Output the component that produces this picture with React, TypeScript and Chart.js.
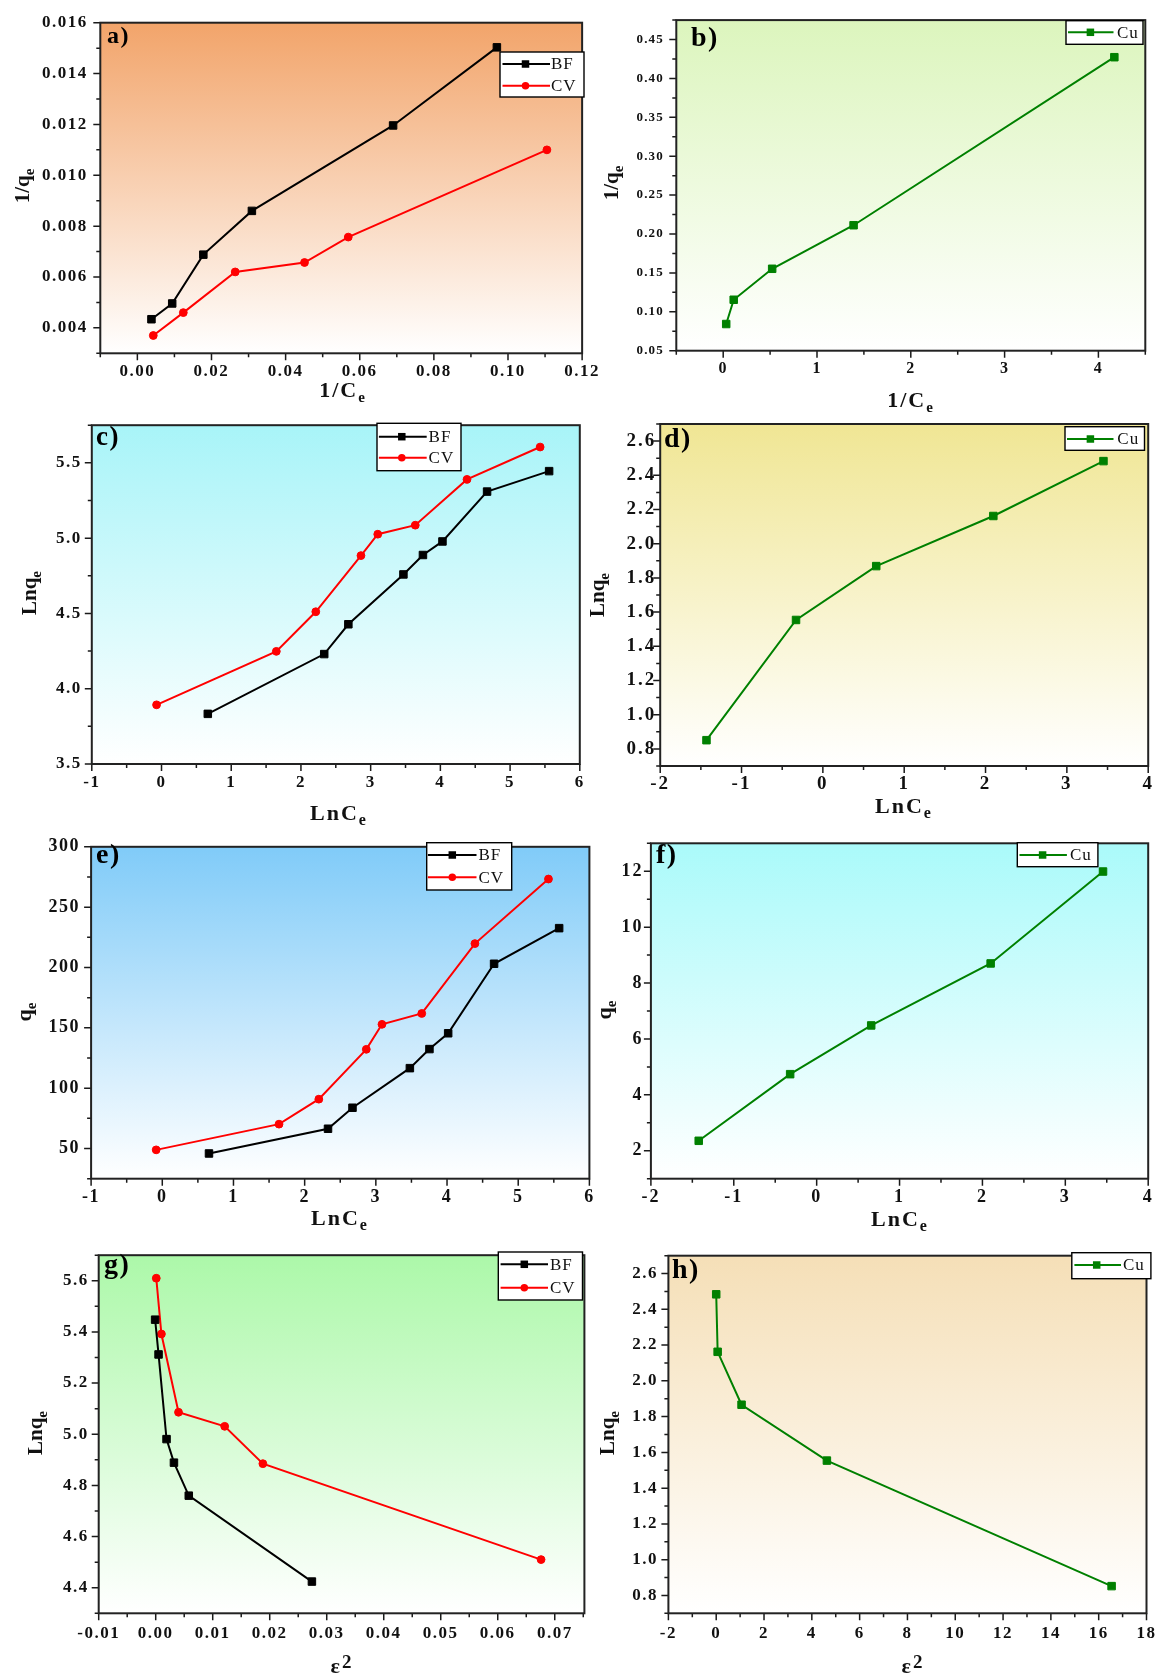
import React, { useEffect, useRef } from 'react';
import { Chart, registerables } from 'chart.js';

Chart.register(...registerables);

const FONT = "'Liberation Serif', 'Times New Roman', Times, serif";

// ---------- data ----------
// a) 1/qe vs 1/Ce
const aBFx = [0.0038, 0.0094, 0.0178, 0.0309, 0.069, 0.097];
const aBFy = [0.00434, 0.00496, 0.00688, 0.0086, 0.01196, 0.01503];
const aCVx = [0.0043, 0.0124, 0.0264, 0.0451, 0.0569, 0.1105];
const aCVy = [0.0037, 0.0046, 0.0062, 0.00657, 0.00757, 0.011];
const aXTicks = ['0.00', '0.02', '0.04', '0.06', '0.08', '0.10', '0.12'];
const aYTicks = ['0.004', '0.006', '0.008', '0.010', '0.012', '0.014', '0.016'];

// b) Cu 1/qe vs 1/Ce
const bCux = [0.032, 0.112, 0.522, 1.39, 4.17];
const bCuy = [0.0843, 0.1155, 0.1553, 0.2113, 0.4273];
const bXTicks = ['0', '1', '2', '3', '4'];
const bYTicks = ['0.05', '0.10', '0.15', '0.20', '0.25', '0.30', '0.35', '0.40', '0.45'];

// c) Lnqe vs LnCe
const cBFx = [0.664, 2.334, 2.68, 3.47, 3.75, 4.03, 4.67, 5.56];
const cBFy = [3.833, 4.23, 4.428, 4.759, 4.888, 4.978, 5.309, 5.445];
const cCVx = [-0.071, 1.647, 2.213, 2.861, 3.102, 3.64, 4.382, 5.431];
const cCVy = [3.893, 4.248, 4.511, 4.884, 5.026, 5.086, 5.39, 5.605];
const cXTicks = ['-1', '0', '1', '2', '3', '4', '5', '6'];
const cYTicks = ['3.5', '4.0', '4.5', '5.0', '5.5'];

// d) Cu Lnqe vs LnCe
const dCux = [-1.431, -0.33, 0.656, 2.096, 3.45];
const dCuy = [0.851, 1.554, 1.869, 2.162, 2.483];
const dXTicks = ['-2', '-1', '0', '1', '2', '3', '4'];
const dYTicks = ['0.8', '1.0', '1.2', '1.4', '1.6', '1.8', '2.0', '2.2', '2.4', '2.6'];

// e) qe vs LnCe
const eBFx = [0.656, 2.328, 2.672, 3.478, 3.753, 4.016, 4.661, 5.575];
const eBFy = [45.9, 66.4, 83.8, 116.6, 132.4, 145.5, 203.1, 232.6];
const eCVx = [-0.086, 1.64, 2.199, 2.866, 3.086, 3.645, 4.392, 5.425];
const eCVy = [48.9, 70.2, 90.9, 132.2, 152.9, 161.9, 219.8, 273.3];
const eXTicks = ['-1', '0', '1', '2', '3', '4', '5', '6'];
const eYTicks = ['50', '100', '150', '200', '250', '300'];

// f) Cu qe vs LnCe
const fCux = [-1.423, -0.32, 0.658, 2.099, 3.455];
const fCuy = [2.356, 4.74, 6.484, 8.702, 11.99];
const fXTicks = ['-2', '-1', '0', '1', '2', '3', '4'];
const fYTicks = ['2', '4', '6', '8', '10', '12'];

// g) Lnqe vs eps^2
const gBFx = [-0.0001, 0.0005, 0.0019, 0.0032, 0.0058, 0.0274];
const gBFy = [5.448, 5.312, 4.981, 4.889, 4.76, 4.424];
const gCVx = [0.0001, 0.001, 0.004, 0.0121, 0.0188, 0.0676];
const gCVy = [5.61, 5.392, 5.086, 5.031, 4.885, 4.51];
const gXTicks = ['-0.01', '0.00', '0.01', '0.02', '0.03', '0.04', '0.05', '0.06', '0.07'];
const gYTicks = ['4.4', '4.6', '4.8', '5.0', '5.2', '5.4', '5.6'];

// h) Cu Lnqe vs eps^2
const hCux = [0.0, 0.06, 1.06, 4.63, 16.54];
const hCuy = [2.484, 2.1625, 1.8665, 1.554, 0.852];
const hXTicks = ['-2', '0', '2', '4', '6', '8', '10', '12', '14', '16', '18'];
const hYTicks = ['0.8', '1.0', '1.2', '1.4', '1.6', '1.8', '2.0', '2.2', '2.4', '2.6'];

// ---------- styling / layout ----------
type Part = { t: string; s: number; dy?: number };
type Series = { label: string; xs: number[]; ys: number[]; color: string; style: 'rect' | 'circle' };
type Panel = {
  key: string;
  canvas: [number, number, number, number];
  plot: [number, number, number, number];
  xRange: [number, number];
  yRange: [number, number];
  xTicks: string[];
  yTicks: string[];
  xMinor: number;
  yMinor: number;
  xFont: number;
  yFont: number;
  xPad: number;
  yPad: number;
  spacing: number;
  bgTop: string;
  series: Series[];
  legend: { box: [number, number, number, number]; rows: number[]; lineX: [number, number]; markX: number; textX: number; fontSize: number };
  label: { t: string; x: number; y: number; s: number };
  xTitle: { parts: Part[]; cx: number; by: number };
  yTitle: { parts: Part[]; bx: number; cy: number };
};

const BLACK = '#000000';
const RED = '#FF0000';
const GREEN = '#008000';

const tInvC: Part[] = [{ t: '1/C', s: 22 }, { t: 'e', s: 15, dy: 5 }];
const tInvQ: Part[] = [{ t: '1/q', s: 21 }, { t: 'e', s: 15, dy: 5 }];
const tLnC: Part[] = [{ t: 'LnC', s: 22 }, { t: 'e', s: 16, dy: 5 }];
const tLnQ: Part[] = [{ t: 'Lnq', s: 21 }, { t: 'e', s: 15, dy: 5 }];
const tQ: Part[] = [{ t: 'q', s: 22 }, { t: 'e', s: 15, dy: 5 }];
const tEps: Part[] = [{ t: 'ε', s: 22 }, { t: '2', s: 19, dy: -5 }];

const PANELS: Panel[] = [
  {
    key: 'a', canvas: [0, 0, 605, 415], plot: [100.3, 20.7, 585.5, 353.3],
    xRange: [-0.01, 0.12], yRange: [0.003, 0.016], xTicks: aXTicks, yTicks: aYTicks,
    xMinor: 0.01, yMinor: 0.001, xFont: 17, yFont: 17, xPad: 8, yPad: 12.5, spacing: 1.5, bgTop: '#F2A46A',
    series: [
      { label: 'BF', xs: aBFx, ys: aBFy, color: BLACK, style: 'rect' },
      { label: 'CV', xs: aCVx, ys: aCVy, color: RED, style: 'circle' },
    ],
    legend: { box: [500, 52, 584, 97], rows: [64, 85.7], lineX: [502.5, 550], markX: 525.5, textX: 551, fontSize: 17 },
    label: { t: 'a)', x: 107, y: 43, s: 24 },
    xTitle: { parts: tInvC, cx: 342, by: 397 },
    yTitle: { parts: tInvQ, bx: 28.7, cy: 186 },
  },
  {
    key: 'b', canvas: [580, 0, 585, 415], plot: [676.3, 20, 1145.3, 350.7],
    xRange: [-0.5, 4.5], yRange: [0.05, 0.475], xTicks: bXTicks, yTicks: bYTicks,
    xMinor: 0.5, yMinor: 0.025, xFont: 16, yFont: 13, xPad: 9, yPad: 12.3, spacing: 1.2, bgTop: '#DCF5BD',
    series: [{ label: 'Cu', xs: bCux, ys: bCuy, color: GREEN, style: 'rect' }],
    legend: { box: [1066, 20.7, 1143, 44.3], rows: [32.3], lineX: [1068, 1113.5], markX: 1090.4, textX: 1117, fontSize: 17 },
    label: { t: 'b)', x: 691, y: 46, s: 28 },
    xTitle: { parts: tInvC, cx: 910, by: 407 },
    yTitle: { parts: tInvQ, bx: 618.4, cy: 183 },
  },
  {
    key: 'c', canvas: [0, 405, 605, 425], plot: [91.8, 422.7, 579.8, 764],
    xRange: [-1, 6], yRange: [3.5, 5.75], xTicks: cXTicks, yTicks: cYTicks,
    xMinor: 0.5, yMinor: 0.25, xFont: 17, yFont: 17, xPad: 8, yPad: 10, spacing: 1.5, bgTop: '#A8F4F8',
    series: [
      { label: 'BF', xs: cBFx, ys: cBFy, color: BLACK, style: 'rect' },
      { label: 'CV', xs: cCVx, ys: cCVy, color: RED, style: 'circle' },
    ],
    legend: { box: [377, 423.3, 461, 470.7], rows: [436.7, 457.7], lineX: [378.9, 426.7], markX: 401.8, textX: 428.6, fontSize: 17 },
    label: { t: 'c)', x: 96, y: 445, s: 27 },
    xTitle: { parts: tLnC, cx: 338, by: 820 },
    yTitle: { parts: tLnQ, bx: 36, cy: 593 },
  },
  {
    key: 'd', canvas: [580, 405, 585, 425], plot: [660.2, 424, 1148.2, 766],
    xRange: [-2, 4], yRange: [0.7, 2.7], xTicks: dXTicks, yTicks: dYTicks,
    xMinor: 0.5, yMinor: 0.1, xFont: 19, yFont: 19, xPad: 7, yPad: 4, spacing: 2, bgTop: '#F0E694',
    series: [{ label: 'Cu', xs: dCux, ys: dCuy, color: GREEN, style: 'rect' }],
    legend: { box: [1065, 426.7, 1144.5, 450.3], rows: [439], lineX: [1067, 1113.5], markX: 1090.4, textX: 1117.3, fontSize: 17 },
    label: { t: 'd)', x: 664, y: 447, s: 28 },
    xTitle: { parts: tLnC, cx: 903, by: 813 },
    yTitle: { parts: tLnQ, bx: 604, cy: 595 },
  },
  {
    key: 'e', canvas: [0, 825, 605, 415], plot: [91.1, 842, 589.4, 1178.7],
    xRange: [-1, 6], yRange: [25, 300], xTicks: eXTicks, yTicks: eYTicks,
    xMinor: 0.5, yMinor: 25, xFont: 18, yFont: 18, xPad: 8, yPad: 11, spacing: 1.5, bgTop: '#80CBF8',
    series: [
      { label: 'BF', xs: eBFx, ys: eBFy, color: BLACK, style: 'rect' },
      { label: 'CV', xs: eCVx, ys: eCVy, color: RED, style: 'circle' },
    ],
    legend: { box: [426.7, 842.7, 511.7, 890], rows: [855, 877.3], lineX: [427.9, 476.5], markX: 452.3, textX: 478.4, fontSize: 17 },
    label: { t: 'e)', x: 96, y: 863, s: 28 },
    xTitle: { parts: tLnC, cx: 339, by: 1225 },
    yTitle: { parts: tQ, bx: 30.6, cy: 1012 },
  },
  {
    key: 'f', canvas: [580, 825, 585, 415], plot: [650.9, 842, 1148.2, 1178.7],
    xRange: [-2, 4], yRange: [1, 13], xTicks: fXTicks, yTicks: fYTicks,
    xMinor: 0.5, yMinor: 1, xFont: 18, yFont: 18, xPad: 8, yPad: 7.5, spacing: 2, bgTop: '#AAFAFA',
    series: [{ label: 'Cu', xs: fCux, ys: fCuy, color: GREEN, style: 'rect' }],
    legend: { box: [1017.3, 842.7, 1097.9, 866.7], rows: [855], lineX: [1019.5, 1066.9], markX: 1042.6, textX: 1069.9, fontSize: 17 },
    label: { t: 'f)', x: 656, y: 863, s: 28 },
    xTitle: { parts: tLnC, cx: 899, by: 1226 },
    yTitle: { parts: tQ, bx: 610.6, cy: 1010 },
  },
  {
    key: 'g', canvas: [0, 1235, 605, 443], plot: [98.7, 1251.3, 584.4, 1613.3],
    xRange: [-0.01, 0.0752], yRange: [4.3, 5.7], xTicks: gXTicks, yTicks: gYTicks,
    xMinor: 0.005, yMinor: 0.1, xFont: 17, yFont: 17, xPad: 10, yPad: 10, spacing: 1.5, bgTop: '#ACF8A9',
    series: [
      { label: 'BF', xs: gBFx, ys: gBFy, color: BLACK, style: 'rect' },
      { label: 'CV', xs: gCVx, ys: gCVy, color: RED, style: 'circle' },
    ],
    legend: { box: [498.3, 1252, 582.5, 1300], rows: [1264.3, 1287.7], lineX: [500.6, 548], markX: 524.3, textX: 550, fontSize: 17 },
    label: { t: 'g)', x: 104, y: 1273, s: 28 },
    xTitle: { parts: tEps, cx: 341, by: 1673 },
    yTitle: { parts: tLnQ, bx: 42, cy: 1433 },
  },
  {
    key: 'h', canvas: [580, 1235, 585, 443], plot: [668.4, 1251.3, 1153.5, 1613.3],
    xRange: [-2, 18], yRange: [0.7, 2.7], xTicks: hXTicks, yTicks: hYTicks,
    xMinor: 1, yMinor: 0.1, xFont: 17, yFont: 17, xPad: 10, yPad: 10.5, spacing: 1.5, bgTop: '#F5DFB7',
    series: [{ label: 'Cu', xs: hCux, ys: hCuy, color: GREEN, style: 'rect' }],
    legend: { box: [1071.8, 1252.7, 1150.9, 1278.7], rows: [1265], lineX: [1074.4, 1121], markX: 1096.7, textX: 1122.9, fontSize: 17 },
    label: { t: 'h)', x: 672, y: 1278, s: 28 },
    xTitle: { parts: tEps, cx: 912, by: 1673 },
    yTitle: { parts: tLnQ, bx: 613.6, cy: 1433 },
  },
];

function setSpacing(ctx: any, px: number) {
  if ('letterSpacing' in ctx) ctx.letterSpacing = px + 'px';
}

function drawRich(ctx: CanvasRenderingContext2D, parts: Part[], cx: number, by: number, sp: number) {
  setSpacing(ctx, sp);
  const widths = parts.map((pt) => {
    ctx.font = `bold ${pt.s}px ${FONT}`;
    return ctx.measureText(pt.t).width;
  });
  const total = widths.reduce((a, b) => a + b, 0) - sp;
  let x = cx - total / 2;
  ctx.textAlign = 'left';
  ctx.textBaseline = 'alphabetic';
  parts.forEach((pt, i) => {
    ctx.font = `bold ${pt.s}px ${FONT}`;
    ctx.fillText(pt.t, x, by + (pt.dy || 0));
    x += widths[i];
  });
  setSpacing(ctx, 0);
}

function drawMarker(ctx: CanvasRenderingContext2D, style: 'rect' | 'circle', x: number, y: number, size: number) {
  ctx.beginPath();
  if (style === 'rect') {
    ctx.rect(x - size / 2, y - size / 2, size, size);
  } else {
    ctx.arc(x, y, size / 2, 0, Math.PI * 2);
  }
  ctx.fill();
}

function makeDecor(p: Panel) {
  return {
    id: 'decor_' + p.key,
    beforeDraw(chart: any) {
      const { ctx, chartArea: a } = chart;
      ctx.save();
      const g = ctx.createLinearGradient(0, a.top, 0, a.bottom);
      g.addColorStop(0, p.bgTop);
      g.addColorStop(1, '#FFFFFF');
      ctx.fillStyle = g;
      ctx.fillRect(a.left, a.top, a.right - a.left, a.bottom - a.top);
      ctx.restore();
      // widen the tick labels that the scales draw next
      setSpacing(ctx, p.spacing);
    },
    beforeDatasetsDraw(chart: any) {
      setSpacing(chart.ctx, 0);
    },
    afterDraw(chart: any) {
      const { ctx, chartArea: a, scales } = chart;
      const xs = scales.x;
      const ys = scales.y;
      const xMaj = p.xTicks.map(Number);
      const yMaj = p.yTicks.map(Number);
      const isMaj = (arr: number[], v: number, step: number) => arr.some((m) => Math.abs(m - v) < step * 1e-3);
      ctx.save();
      setSpacing(ctx, 0);
      ctx.strokeStyle = '#1a1a1a';
      ctx.lineWidth = 1.5;
      ctx.beginPath();
      for (let k = Math.ceil(p.xRange[0] / p.xMinor - 1e-6); k * p.xMinor <= p.xRange[1] + 1e-9; k++) {
        const v = k * p.xMinor;
        const px = xs.getPixelForValue(v);
        const len = isMaj(xMaj, v, p.xMinor) ? 7 : 4;
        ctx.moveTo(px, a.bottom);
        ctx.lineTo(px, a.bottom + len);
      }
      for (let k = Math.ceil(p.yRange[0] / p.yMinor - 1e-6); k * p.yMinor <= p.yRange[1] + 1e-9; k++) {
        const v = k * p.yMinor;
        const py = ys.getPixelForValue(v);
        const len = isMaj(yMaj, v, p.yMinor) ? 7 : 4;
        ctx.moveTo(a.left, py);
        ctx.lineTo(a.left - len, py);
      }
      ctx.stroke();
      ctx.lineWidth = 2;
      ctx.strokeStyle = '#222222';
      ctx.strokeRect(a.left, a.top, a.right - a.left, a.bottom - a.top);

      // page coordinates from here
      ctx.translate(-p.canvas[0], -p.canvas[1]);

      // legend
      const L = p.legend;
      ctx.fillStyle = '#FFFFFF';
      ctx.fillRect(L.box[0], L.box[1], L.box[2] - L.box[0], L.box[3] - L.box[1]);
      ctx.strokeStyle = '#000000';
      ctx.lineWidth = 1.4;
      ctx.strokeRect(L.box[0], L.box[1], L.box[2] - L.box[0], L.box[3] - L.box[1]);
      p.series.forEach((s, i) => {
        const ry = L.rows[i];
        ctx.strokeStyle = s.color;
        ctx.lineWidth = 2;
        ctx.beginPath();
        ctx.moveTo(L.lineX[0], ry);
        ctx.lineTo(L.lineX[1], ry);
        ctx.stroke();
        ctx.fillStyle = s.color;
        drawMarker(ctx, s.style, L.markX, ry, 7.5);
        ctx.fillStyle = '#111111';
        ctx.font = `${L.fontSize}px ${FONT}`;
        ctx.textAlign = 'left';
        ctx.textBaseline = 'middle';
        setSpacing(ctx, 1);
        ctx.fillText(s.label, L.textX, ry + 1);
        setSpacing(ctx, 0);
      });

      // panel label
      ctx.fillStyle = '#000000';
      ctx.font = `bold ${p.label.s}px ${FONT}`;
      ctx.textAlign = 'left';
      ctx.textBaseline = 'alphabetic';
      setSpacing(ctx, 1.5);
      ctx.fillText(p.label.t, p.label.x, p.label.y);
      setSpacing(ctx, 0);

      // axis titles
      ctx.fillStyle = '#111111';
      drawRich(ctx, p.xTitle.parts, p.xTitle.cx, p.xTitle.by, 2);
      ctx.save();
      ctx.translate(p.yTitle.bx, p.yTitle.cy);
      ctx.rotate(-Math.PI / 2);
      drawRich(ctx, p.yTitle.parts, 0, 0, 0);
      ctx.restore();

      ctx.restore();
    },
  };
}

function PanelChart({ p }: { p: Panel }) {
  const ref = useRef<HTMLCanvasElement>(null);
  useEffect(() => {
    const canvas = ref.current;
    if (!canvas) return;
    const [cx, cy, cw, ch] = p.canvas;
    const [pl, pt, pr, pb] = p.plot;
    const chart = new Chart(canvas, {
      type: 'scatter',
      data: {
        datasets: p.series.map((s) => ({
          label: s.label,
          data: s.xs.map((x, i) => ({ x, y: s.ys[i] })),
          showLine: true,
          borderColor: s.color,
          backgroundColor: s.color,
          borderWidth: 2,
          pointStyle: s.style,
          pointRadius: s.style === 'rect' ? 5.3 : 3.9,
          pointBackgroundColor: s.color,
          pointBorderColor: s.color,
          pointBorderWidth: 1,
          tension: 0,
        })),
      },
      options: {
        responsive: false,
        animation: false,
        events: [],
        layout: {
          autoPadding: false,
          padding: { left: 0, top: pt - cy, right: cx + cw - pr, bottom: 0 },
        },
        plugins: {
          legend: { display: false },
          tooltip: { enabled: false },
          title: { display: false },
        },
        scales: {
          x: {
            type: 'linear',
            position: 'bottom',
            min: p.xRange[0],
            max: p.xRange[1],
            grid: { display: false, drawTicks: false },
            border: { display: false },
            ticks: {
              autoSkip: false,
              maxRotation: 0,
              minRotation: 0,
              padding: p.xPad,
              color: '#111111',
              font: { family: FONT, size: p.xFont, weight: 'bold' },
              callback: (_v: any, i: number) => p.xTicks[i],
            },
            afterBuildTicks: (s: any) => {
              s.ticks = p.xTicks.map((t) => ({ value: Number(t) }));
            },
            afterFit: (s: any) => {
              s.height = cy + ch - pb;
            },
          },
          y: {
            type: 'linear',
            position: 'left',
            min: p.yRange[0],
            max: p.yRange[1],
            grid: { display: false, drawTicks: false },
            border: { display: false },
            ticks: {
              autoSkip: false,
              padding: p.yPad,
              color: '#111111',
              font: { family: FONT, size: p.yFont, weight: 'bold' },
              callback: (_v: any, i: number) => p.yTicks[i],
            },
            afterBuildTicks: (s: any) => {
              s.ticks = p.yTicks.map((t) => ({ value: Number(t) }));
            },
            afterFit: (s: any) => {
              s.width = pl - cx;
            },
          },
        },
      } as any,
      plugins: [makeDecor(p)],
    });
    return () => chart.destroy();
  }, [p]);
  const [cx, cy, cw, ch] = p.canvas;
  return (
    <canvas
      ref={ref}
      width={cw}
      height={ch}
      style={{ position: 'absolute', left: cx, top: cy, width: cw, height: ch }}
    />
  );
}

export default function App() {
  return (
    <div style={{ position: 'absolute', left: 0, top: 0, width: 1165, height: 1678, background: '#FFFFFF', overflow: 'hidden' }}>
      {PANELS.map((p) => (
        <PanelChart key={p.key} p={p} />
      ))}
    </div>
  );
}
